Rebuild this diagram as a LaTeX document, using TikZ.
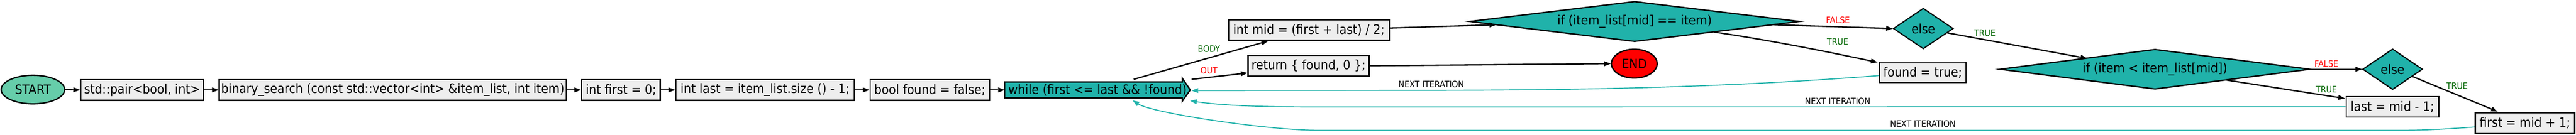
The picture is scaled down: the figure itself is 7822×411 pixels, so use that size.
\documentclass[tikz,border=0pt]{standalone}
\usepackage{fontspec}
\IfFontExistsTF{DejaVu Sans Condensed}{\setmainfont{DejaVu Sans Condensed}\def\nsz{39.5}\def\lsz{27}}{\setmainfont{DejaVu Sans}\def\nsz{35.5}\def\lsz{24.5}}
\usetikzlibrary{shapes.geometric,arrows.meta,backgrounds}
\definecolor{boxgray}{HTML}{EEEEEE}
\definecolor{tealfill}{HTML}{20B2AA}
\definecolor{startc}{HTML}{66CDAA}
\definecolor{loopc}{HTML}{20B2AA}
\definecolor{labgreen}{HTML}{006400}
\definecolor{labred}{HTML}{FF0000}
\tikzset{
  base/.style={inner sep=0pt, font=\fontsize{\nsz}{\nsz}\selectfont},
  procbox/.style={base, rectangle, draw=black, line width=4pt, fill=boxgray, minimum height=63pt},
  term/.style={base, ellipse, draw=black, line width=4pt},
  cond/.style={base, diamond, draw=black, line width=4pt, fill=tealfill},
  whileshape/.style={fill=tealfill, draw=black, line width=4pt, line join=miter},
  flow/.style={draw=black, line width=4pt, -{Triangle[length=20pt,width=15pt,line width=0.5pt]}},
  loopback/.style={draw=loopc, line width=3pt, -{Triangle[length=20pt,width=15pt,line width=0.5pt]}},
  lab/.style={inner sep=0pt, font=\fontsize{\lsz}{\lsz}\selectfont},
}
\begin{document}
\begin{tikzpicture}[x=1pt,y=-1pt]
\useasboundingbox (0,0) rectangle (7822,411);
% nodes
\node[term, fill=startc, minimum width=193pt, minimum height=87pt] (start) at (100,273) {START};
\node[procbox, minimum width=373pt] (pair) at (431.5,274) {std::pair<bool, int>};
\node[procbox, minimum width=1053pt] (bsearch) at (1192.5,274) {binary\_search (const std::vector<int> \&item\_list, int item)};
\node[procbox, minimum width=239pt] (first0) at (1885.5,274) {int first = 0;};
\node[procbox, minimum width=542pt] (lastsize) at (2323,274) {int last = item\_list.size () - 1;};
\node[procbox, minimum width=363pt] (found0) at (2823.5,274) {bool found = false;};
\node[base, minimum width=563pt, minimum height=48pt] (while) at (3332.5,274) {};
\begin{scope}[on background layer]
\path[whileshape] (while.north west) -- ([xshift=-24pt]while.north east) -- ([xshift=-24pt,yshift=11pt]while.north east) -- (while.east) -- ([xshift=-24pt,yshift=-10pt]while.south east) -- ([xshift=-24pt]while.south east) -- (while.south west) -- cycle;
\end{scope}
\node[base] (whiletext) at (while.center) {while (first <= last \&\& !found)};
\node[procbox, minimum width=489pt] (mid) at (3974.5,91.5) {int mid = (first + last) / 2;};
\node[procbox, minimum width=367pt] (ret) at (3973.5,200.5) {return \{ found, 0 \};};
\node[cond, aspect=8.15, minimum width=1003pt, minimum height=123pt] (if1) at (4963.5,65.5) {if (item\_list[mid] == item)};
\node[term, fill=red, minimum width=139pt, minimum height=88pt] (end) at (4962.5,194) {END};
\node[cond, line width=3.5pt, aspect=1.4, minimum width=182pt, minimum height=124pt] (else1) at (5840,87) {else};
\node[procbox, minimum width=263pt] (foundtrue) at (5838.5,220.5) {found = true;};
\node[cond, aspect=7.7, minimum width=943pt, minimum height=122pt] (if2) at (6543.5,211) {if (item < item\_list[mid])};
\node[cond, line width=3.5pt, aspect=1.4, minimum width=182pt, minimum height=124pt] (else2) at (7265,211) {else};
\node[procbox, minimum width=281pt] (lastmid) at (7264.5,325.5) {last = mid - 1;};
\node[procbox, minimum width=302pt, minimum height=64pt] (firstmid) at (7667,375) {first = mid + 1;};
% straight chain
\draw[flow] (start.east) -- (pair.west);
\draw[flow] (pair.east) -- (bsearch.west);
\draw[flow] (bsearch.east) -- (first0.west);
\draw[flow] (first0.east) -- (lastsize.west);
\draw[flow] (lastsize.east) -- (found0.west);
\draw[flow] (found0.east) -- (while.west);
% loop body / exit
\draw[flow] ([xshift=110pt,yshift=8pt]while.north) -- ([xshift=-124pt]mid.south);
\draw[flow] ([xshift=4pt,yshift=8pt]while.north east) -- ([yshift=-22pt]ret.west);
\draw[flow] (ret.east) -- (end.west);
\draw[flow] ([yshift=6pt]mid.east) -- ([xshift=83pt,yshift=-10pt]if1.west);
\draw[flow] ([xshift=-79pt,yshift=-10pt]if1.east) -- (else1.west);
\draw[flow] ([xshift=240pt,yshift=-32pt]if1.center) .. controls (5370,122) and (5537,155) .. ([xshift=-4pt,yshift=-3pt]foundtrue.north west);
\draw[flow] ([xshift=72pt,yshift=-13pt]else1.center) -- ([xshift=-206pt,yshift=33pt]if2.center);
\draw[flow] (if2.east) -- (else2.west);
\draw[flow] ([xshift=217pt,yshift=-33pt]if2.center) -- ([xshift=-2pt,yshift=-8pt]lastmid.north west);
\draw[flow] ([xshift=60pt,yshift=-22pt]else2.center) -- ([xshift=-83pt,yshift=1pt]firstmid.north);
% loop backs
\draw[loopback] ([yshift=-10pt]foundtrue.west) .. controls (5300,262) and (4900,274) .. (4400,275) -- ([xshift=4pt,yshift=-2pt]while.east);
\draw[loopback] (lastmid.west) -- (4000,326) .. controls (3800,326) and (3700,320) .. ([yshift=-9pt]while.south east);
\draw[loopback] ([yshift=-12pt]firstmid.west) .. controls (7420,394) and (7360,397) .. (7294,397) -- (4000,397) .. controls (3850,397) and (3500,345) .. ([xshift=107pt,yshift=-8pt]while.south);
% labels
\node[lab, text=labgreen] (lbody) at (3671,149) {BODY};
\node[lab, text=labred] (lout) at (3671,215) {OUT};
\node[lab] (lnext1) at (4346,257) {NEXT ITERATION};
\node[lab, text=labred] (lfalse1) at (5581,62) {FALSE};
\node[lab, text=labgreen] (ltrue1) at (5580,127) {TRUE};
\node[lab, text=labgreen] (ltrue2) at (6027,100) {TRUE};
\node[lab] (lnext2) at (5580,308) {NEXT ITERATION};
\node[lab] (lnext3) at (5839,378) {NEXT ITERATION};
\node[lab, text=labred] (lfalse2) at (7064,194) {FALSE};
\node[lab, text=labgreen] (ltrue3) at (7064,272) {TRUE};
\node[lab, text=labgreen] (ltrue4) at (7461,262) {TRUE};
\end{tikzpicture}
\end{document}
